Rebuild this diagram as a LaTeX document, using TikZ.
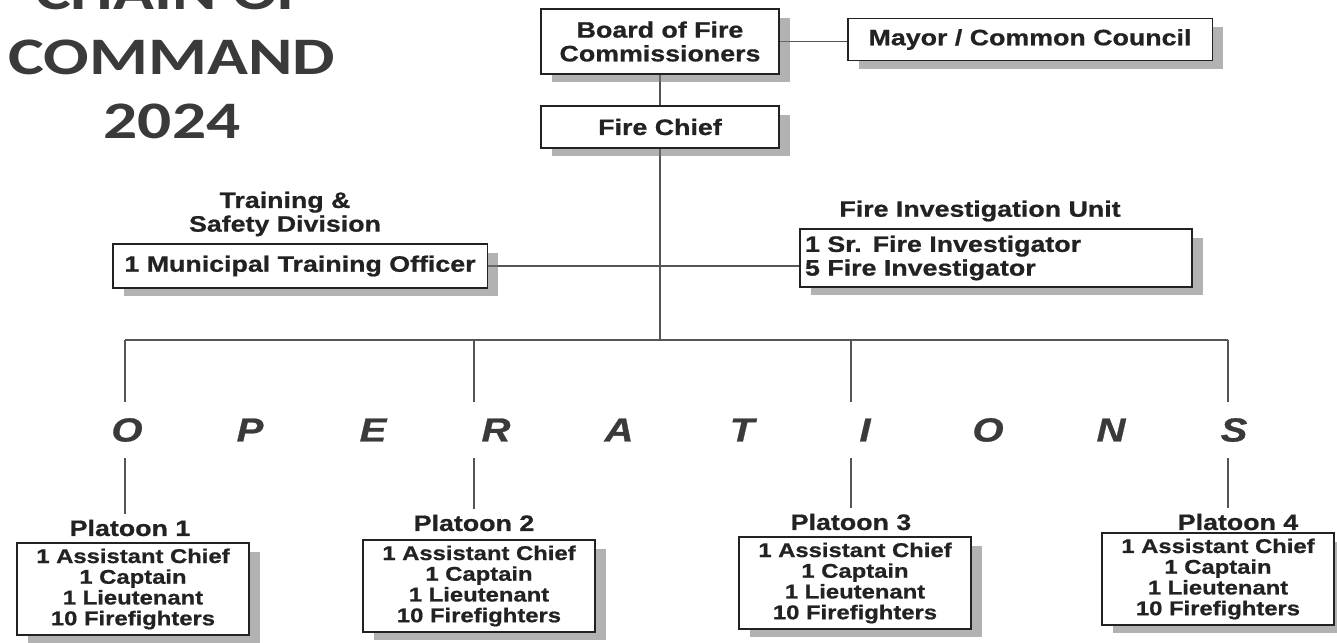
\documentclass[tikz,border=0pt]{standalone}
\usepackage{fontspec}
\setmainfont{Liberation Sans}[FakeStretch=1.2, BoldFeatures={FakeBold=0.8}, BoldItalicFeatures={FakeBold=0.8}]
\newfontfamily\titlefont{Carlito}[FakeStretch=1.28]
\usetikzlibrary{shadows,backgrounds}
\definecolor{inkgray}{HTML}{222222}
\definecolor{titlegray}{HTML}{3A3A3A}
\definecolor{linegray}{HTML}{555555}

\begin{document}
\begin{tikzpicture}[x=0.02cm, y=-0.02cm,
  box/.style={draw=inkgray, line width=1.1pt, fill=white, inner sep=0pt, align=center,
    text=inkgray, font=\bfseries\fontsize{12.7}{13.5}\selectfont,
    drop shadow={shadow xshift=0.22cm, shadow yshift=-0.17cm, fill=black!55, opacity=0.55}},
  crew/.style={box, minimum width=4.64cm, minimum height=1.84cm, font=\bfseries\fontsize{11.3}{11.8}\selectfont},
  lbl/.style={align=center, text=inkgray, font=\bfseries\fontsize{12.7}{13.5}\selectfont},
  opsletter/.style={text=titlegray, font=\bfseries\itshape\fontsize{19}{19}\selectfont},
  title/.style={text=titlegray, font=\titlefont\bfseries\fontsize{30}{30}\selectfont},
  link/.style={draw=linegray, line width=0.8pt}]
\useasboundingbox (0,0) rectangle (1337,642);

% title, cut at the top edge
\node[title, anchor=base] (title1) at (172,10) {CHAIN OF};
\node[title, anchor=base] (title2) at (172,74) {COMMAND};
\node[title, anchor=base] (title3) at (172,138) {2024};

% top of the chain
\node[box, minimum width=4.76cm, minimum height=1.3cm] (board) at (660,41.5) {Board of Fire\\Commissioners};
\node[box, minimum width=7.3cm, minimum height=0.84cm] (mayor) at (1030,39.5) {Mayor / Common Council};
\node[box, minimum width=4.76cm, minimum height=0.84cm] (chief) at (660,127) {Fire Chief};

% divisions
\node[lbl] (trainlbl) at (285,214) {Training \&\\Safety Division};
\node[box, minimum width=7.5cm, minimum height=0.88cm] (train) at (300,266) {1 Municipal Training Officer};
\node[lbl] (fiulbl) at (980,211) {Fire Investigation Unit};
\node[box, minimum width=7.84cm, minimum height=1.16cm, align=left, text width=7.64cm] (fiu) at (996,258)
  {1 Sr. Fire Investigator\\5 Fire Investigator};

% operations
\foreach \l [count=\i from 0] in {O,P,E,R,A,T,I,O,N,S}
  \node[opsletter] (ops\i) at ({127+123*\i},430) {\l};

% platoons
\node[lbl] (plab1) at (130,528) {Platoon 1};
\node[lbl] (plab2) at (474,523) {Platoon 2};
\node[lbl] (plab3) at (851,522) {Platoon 3};
\node[lbl] (plab4) at (1238,522) {Platoon 4};
\node[crew] (plt1) at (133,589) {1 Assistant Chief\\1 Captain\\1 Lieutenant\\10 Firefighters};
\node[crew] (plt2) at (479,586) {1 Assistant Chief\\1 Captain\\1 Lieutenant\\10 Firefighters};
\node[crew] (plt3) at (855,583) {1 Assistant Chief\\1 Captain\\1 Lieutenant\\10 Firefighters};
\node[crew] (plt4) at (1218,579) {1 Assistant Chief\\1 Captain\\1 Lieutenant\\10 Firefighters};

\coordinate (bus) at (660,340);
\foreach \x [count=\k] in {125,474,851,1228} {
  \coordinate (top\k) at (\x,340);
  \coordinate (mid\k) at (\x,402);
  \coordinate (low\k) at (\x,458);
}

\begin{scope}[on background layer]
\draw[link] (board.east) -- (board.east -| mayor.west);
\draw[link] (board) -- (chief);
\draw[link] (chief) -- (bus);
\draw[link] (train.east) -- (train.east -| fiu.west);
\draw[link] (top1) -- (top4);
\foreach \k in {1,2,3,4} {
  \draw[link] (top\k) -- (mid\k);
  \draw[link] (low\k) -- (low\k |- plab\k.north);
}
\end{scope}
\end{tikzpicture}
\end{document}
